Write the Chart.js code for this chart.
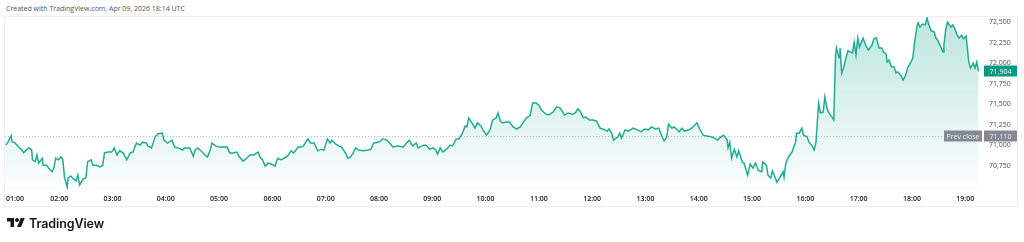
<!DOCTYPE html>
<html>
<head>
<meta charset="utf-8">
<script src="https://cdn.jsdelivr.net/npm/chart.js@4.4.1/dist/chart.umd.min.js"></script>
<style>
  html, body { margin: 0; padding: 0; background: #fff; }
  body { width: 1024px; height: 242px; position: relative; overflow: hidden; font-family: "Open Sans", sans-serif; }
  #hdr { position: absolute; left: 6px; top: 5px; font-size: 7px; line-height: 8px; color: #50535e; white-space: nowrap; }
  #frame { position: absolute; left: 4px; top: 16px; width: 1014px; height: 191px; border: 1px solid #eceef2; box-sizing: border-box; }
  #chart { position: absolute; left: 0; top: 0; }
  #logo { position: absolute; left: 7px; top: 216px; height: 14px; display: flex; align-items: center; }
  #logo span { font-family: Inter, sans-serif; font-weight: 600; font-size: 12.5px; color: #131722; margin-left: 4px; letter-spacing: -0.1px; }
</style>
</head>
<body>
<div id="hdr">Created with TradingView.com, Apr 09, 2026 18:14 UTC</div>
<div id="frame"></div>
<canvas id="chart" width="1024" height="242"></canvas>
<div id="logo">
  <svg width="18" height="14" viewBox="0 0 36 28"><path d="M14 22H7V11H0V4h14v18z" fill="#131722"/><circle cx="20" cy="8" r="4" fill="#131722"/><path d="M28 22h-8l7.5-18h8L28 22z" fill="#131722"/></svg>
  <span>TradingView</span>
</div>
<script>
// minutes after 01:00 and last price
const minutes = [
  0,2,6,7,10,14,18,20,24,26,29,30,33,35,37,41,42,46,48,52,54,56,59,62,64,66,69,70,73,75,
  79,81,83,87,90,92,96,98,102,106,109,111,115,119,122,125,128,132,136,140,143,147,151,154,158,160,164,168,171,176,
  178,182,187,190,194,199,201,207,211,213,
  216,221,224,227,230,232,236,240,244,249,252,256,260,263,267,271,275,279,284,286,
  289,292,295,299,303,306,310,313,317,321,324,329,332,335,340,343,347,351,355,358,
  362,365,367,371,375,378,383,385,388,391,394,397,402,408,411,414,419,422,424,429,432,
  436,441,447,451,454,458,462,464,468,472,474,477,481,484,486,489,492,496,500,503,
  507,510,514,517,519,521,526,528,531,535,537,541,545,548,552,554,557,559,564,567,
  571,575,579,582,586,590,593,597,600,603,608,611,616,620,624,627,629,633,638,641,644,647,650,
  653,657,661,665,669,672,677,679,682,684,689,691,693,697,701,706,711,715,719,723,
  727,731,735,738,741,744,746,750,752,755,758,761,764,769,772,778,781,785,789,794,
  798,801,805,808,812,813,815,817,820,823,825,829,831,835,838,841,844,847,851,852,
  856,858,861,863,868,871,
  875,876,878,881,885,887,889,890,893,896,898,902,904,907,910,912,914,915,917,920,
  922,924,926,930,932,934,935,938,939,941,943,946,948,951,953,955,957,959,961,964,
  965,967,969,971,975,977,980,983,986,988,991,992,994,997,1000,1002,1004,1008,1010,1012,
  1014,1015,1019,1021,1023,1026,1027,1029,1032,1035,1037,1039,1042,1045,1047,1049,1053,1055,1056,1058,
  1060,1064,1066,1068,1071,1073,1076,1078,1081,1082,1084,1086,1089,1091,1093,1095
]
const prices = [
  71005,71035,71120,71045,71035,70985,70945,70910,70955,70970,70945,70825,70805,70885,70785,70845,70760,70760,70725,70680,
  70725,70845,70825,70860,70835,70615,70495,70605,70630,70605,70570,70640,70520,70595,70605,70800,70825,70760,70760,70740,
  70760,70910,70920,70920,70970,70885,70935,70910,70825,70910,70920,71030,71005,71040,71030,70995,70970,71105,71140,71150,
  71065,71030,71065,70980,70970,70945,70970,70970,70870,70945,
  70970,70920,70885,70860,70945,71030,70995,70980,70980,70980,70910,70910,70920,70860,70810,70845,70885,70885,70920,70860,
  70825,70750,70785,70775,70750,70845,70825,70845,70870,70935,70910,70980,70980,70995,71080,71030,71030,70935,70955,70945,
  71080,71030,71065,71020,70995,70980,70895,70845,70860,70910,70970,70945,70935,70945,70955,71030,71040,71055,71080,71065,71030,
  70980,70995,70980,71030,71065,70995,71030,70970,70995,71005,70995,70955,70970,70945,70895,70970,70920,70955,71005,70995,
  71080,71080,71150,71235,71225,71335,71250,71210,71275,71235,71190,71125,71190,71310,71335,71395,71285,71275,71285,71285,
  71225,71200,71225,71275,71335,71360,71515,71515,71490,71430,71380,71370,71405,71470,71455,71405,71370,71395,71380,71395,71445,71405,71335,
  71345,71310,71310,71295,71210,71200,71175,71200,71150,71065,71105,71150,71090,71190,71175,71210,71190,71165,71200,71190,
  71225,71200,71210,71125,71055,71105,71260,71210,71225,71200,71165,71210,71175,71190,71210,71275,71200,71125,71115,71105,
  71090,71065,71105,71125,71065,70970,71040,70845,70955,70860,70935,70800,70785,70640,70775,70725,70785,70700,70680,70800,
  70760,70640,70605,70690,70555,70605,
  70680,70615,70785,70860,70920,70980,71040,71150,71150,71210,71125,71105,71040,71005,70945,71040,71370,71515,71395,71405,
  71590,71470,71405,71345,71310,72100,72185,72065,72185,71880,71940,72075,72150,72135,72125,72255,72100,72305,72195,72280,
  72305,72245,72195,72160,72220,72295,72305,72185,72185,72135,72110,72015,72040,71955,71955,71880,71895,71845,71795,71830,
  71895,71940,72015,72065,72255,72465,72490,72440,72475,72465,72550,72465,72390,72380,72305,72280,72185,72135,72220,72405,
  72500,72440,72465,72425,72340,72305,72340,72295,72330,72220,72015,71940,72000,71940,72015,71904
]

const hourTicks = [0,60,120,180,240,300,360,420,480,540,600,660,720,780,840,900,960,1020,1080]
const hourLabels = ['01:00','02:00','03:00','04:00','05:00','06:00','07:00','08:00','09:00','10:00',
  '11:00','12:00','13:00','14:00','15:00','16:00','17:00','18:00','19:00']
const priceTicks = [70750,71000,71250,71500,71750,72000,72250,72500]
const prevClose = 71110
const lastPrice = 71904

const GREEN = '#22ab94'
const fmt = v => v.toLocaleString('en-US')

function priceTag(ctx, x, y, w, text, bg, fg) {
  ctx.fillStyle = bg
  ctx.fillRect(x, Math.round(y) - 5.5, w, 11)
  ctx.fillStyle = fg
  ctx.font = '7px "Open Sans"'
  ctx.textAlign = 'center'
  ctx.textBaseline = 'middle'
  ctx.fillText(text, x + w / 2, Math.round(y) + 0.5)
}

const overlay = {
  id: 'overlay',
  beforeDatasetsDraw(chart) {
    const { ctx, chartArea: a, scales: { y } } = chart
    const py = Math.round(y.getPixelForValue(prevClose)) + 0.5
    ctx.save()
    ctx.strokeStyle = '#b8bbc2'
    ctx.lineWidth = 1
    ctx.setLineDash([1, 2])
    ctx.beginPath()
    ctx.moveTo(a.left, py)
    ctx.lineTo(a.right, py)
    ctx.stroke()
    ctx.restore()
  },
  afterDraw(chart) {
    const { ctx, chartArea: a, scales: { x, y } } = chart
    ctx.save()
    // hour labels under the plot
    ctx.font = '600 7px "Open Sans"'
    ctx.fillStyle = '#131722'
    ctx.textBaseline = 'middle'
    hourTicks.forEach((v, i) => {
      const px = x.getPixelForValue(v)
      const w = ctx.measureText(hourLabels[i]).width
      if (px - w / 2 < a.left + 1) {
        ctx.textAlign = 'left'
        ctx.fillText(hourLabels[i], a.left + 1, 198.5)
      } else {
        ctx.textAlign = 'center'
        ctx.fillText(hourLabels[i], px, 198.5)
      }
    })
    const pc = y.getPixelForValue(prevClose)
    priceTag(ctx, a.right - 39, pc, 38, 'Prev close', '#868993', '#eceef2')
    priceTag(ctx, a.right + 1, pc, 33, fmt(prevClose), '#868993', '#eceef2')
    priceTag(ctx, a.right + 1, y.getPixelForValue(lastPrice), 33, fmt(lastPrice), '#089981', '#ffffff')
    ctx.restore()
  }
}

new Chart(document.getElementById('chart'), {
  type: 'line',
  data: {
    datasets: [{
      data: minutes.map((m, i) => ({ x: m, y: prices[i] })),
      borderColor: GREEN,
      borderWidth: 1.5,
      pointRadius: 0,
      tension: 0,
      fill: 'start',
      backgroundColor: c => {
        const a = c.chart.chartArea
        if (!a) return 'transparent'
        const g = c.chart.ctx.createLinearGradient(0, a.top, 0, a.bottom)
        g.addColorStop(0, 'rgba(34,171,148,0.30)')
        g.addColorStop(1, 'rgba(34,171,148,0.01)')
        return g
      }
    }]
  },
  options: {
    responsive: false,
    animation: false,
    devicePixelRatio: 1,
    layout: { padding: { left: 5, top: 17, right: 6, bottom: 35 } },
    plugins: { legend: { display: false }, tooltip: { enabled: false } },
    scales: {
      x: {
        type: 'linear',
        min: -1,
        max: 1100,
        grid: { display: false, drawTicks: false },
        border: { display: false },
        ticks: { display: false },
        afterBuildTicks: s => { s.ticks = hourTicks.map(v => ({ value: v })) },
        afterFit: s => { s.height = 17 }
      },
      y: {
        position: 'right',
        min: 70459,
        max: 72561,
        grid: { display: false, drawTicks: false },
        border: { display: false },
        afterBuildTicks: s => { s.ticks = priceTicks.map(v => ({ value: v })) },
        afterFit: s => { s.width = 35 },
        ticks: {
          padding: 6,
          color: '#4a4d57',
          font: { family: 'Open Sans', size: 7 },
          callback: v => fmt(v)
        }
      }
    }
  },
  plugins: [overlay]
})
</script>
</body>
</html>
